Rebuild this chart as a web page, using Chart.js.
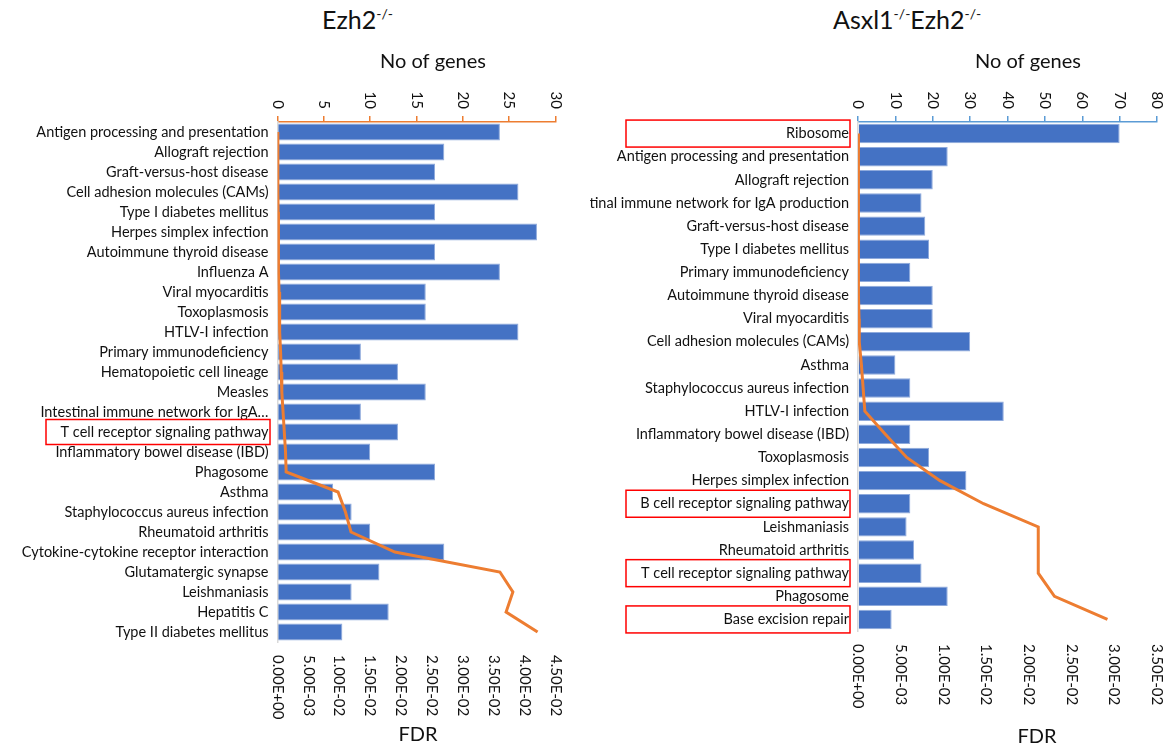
<!DOCTYPE html>
<html>
<head>
<meta charset="utf-8">
<script src="https://cdn.jsdelivr.net/npm/chart.js"></script>
<style>
  body { margin: 0; background: #fff; width: 1172px; height: 749px; position: relative; overflow: hidden; font-family: Lato, sans-serif; color: #111; }
  .title { position: absolute; top: 4px; font-size: 25px; white-space: nowrap; }
  .title sup { font-size: 14px; vertical-align: 10px; }
  #leftChart { position: absolute; left: 0; top: 0; }
  #rightChart { position: absolute; left: 590px; top: 0; }
</style>
</head>
<body>
<div class="title" style="left:322px">Ezh2<sup>-/-</sup></div>
<div class="title" style="left:833px">Asxl1<sup>-/-</sup>Ezh2<sup>-/-</sup></div>
<canvas id="leftChart" width="590" height="749"></canvas>
<canvas id="rightChart" width="582" height="749"></canvas>
<script>
// DATA

// Ezh2 -/- pathways
const ezhPathways = [
  'Antigen processing and presentation', 'Allograft rejection', 'Graft-versus-host disease',
  'Cell adhesion molecules (CAMs)', 'Type I diabetes mellitus', 'Herpes simplex infection',
  'Autoimmune thyroid disease', 'Influenza A', 'Viral myocarditis', 'Toxoplasmosis',
  'HTLV-I infection', 'Primary immunodeficiency', 'Hematopoietic cell lineage', 'Measles',
  'Intestinal immune network for IgA…', 'T cell receptor signaling pathway',
  'Inflammatory bowel disease (IBD)', 'Phagosome', 'Asthma', 'Staphylococcus aureus infection',
  'Rheumatoid arthritis', 'Cytokine-cytokine receptor interaction', 'Glutamatergic synapse',
  'Leishmaniasis', 'Hepatitis C', 'Type II diabetes mellitus'
];
const ezhGenes = [24, 18, 17, 26, 17, 28, 17, 24, 16, 16, 26, 9, 13, 16, 9, 13, 10, 17, 6, 8, 10, 18, 11, 8, 12, 7];
const ezhFdr = [0.00002, 0.00004, 0.00006, 0.00008, 0.0001, 0.00012, 0.00015, 0.0002, 0.00025, 0.0003,
  0.0004, 0.0005, 0.0006, 0.0007, 0.0009, 0.0011, 0.0013, 0.0014, 0.0098, 0.011,
  0.0119, 0.019, 0.036, 0.0381, 0.037, 0.0421];
const ezhGeneTicks = ['0', '5', '10', '15', '20', '25', '30'];
const ezhFdrTicks = ['0.00E+00', '5.00E-03', '1.00E-02', '1.50E-02', '2.00E-02', '2.50E-02', '3.00E-02', '3.50E-02', '4.00E-02', '4.50E-02'];
const ezhBoxed = ['T cell receptor signaling pathway'];

// Asxl1 -/- Ezh2 -/- pathways
const dkoPathways = [
  'Ribosome', 'Antigen processing and presentation', 'Allograft rejection',
  'Intestinal immune network for IgA production', 'Graft-versus-host disease',
  'Type I diabetes mellitus', 'Primary immunodeficiency', 'Autoimmune thyroid disease',
  'Viral myocarditis', 'Cell adhesion molecules (CAMs)', 'Asthma',
  'Staphylococcus aureus infection', 'HTLV-I infection', 'Inflammatory bowel disease (IBD)',
  'Toxoplasmosis', 'Herpes simplex infection', 'B cell receptor signaling pathway',
  'Leishmaniasis', 'Rheumatoid arthritis', 'T cell receptor signaling pathway',
  'Phagosome', 'Base excision repair'
];
const dkoGenes = [70, 24, 20, 17, 18, 19, 14, 20, 20, 30, 10, 14, 39, 14, 19, 29, 14, 13, 15, 17, 24, 9];
const dkoFdr = [0.00001, 0.00002, 0.00003, 0.00004, 0.00005, 0.00006, 0.00008, 0.0001, 0.00012, 0.00015,
  0.0004, 0.0006, 0.0008, 0.0032, 0.0057, 0.0096, 0.0147, 0.0211, 0.0211, 0.0211, 0.023, 0.0292];
const dkoGeneTicks = ['0', '10', '20', '30', '40', '50', '60', '70', '80'];
const dkoFdrTicks = ['0.00E+00', '5.00E-03', '1.00E-02', '1.50E-02', '2.00E-02', '2.50E-02', '3.00E-02', '3.50E-02'];
const dkoBoxed = ['Ribosome', 'B cell receptor signaling pathway', 'T cell receptor signaling pathway', 'Base excision repair'];


// draws rotated tick labels, axis titles and the red boxes
function decorPlugin(d) {
  return {
    id: 'decor',
    afterDraw(chart) {
      const ctx = chart.ctx;
      const area = chart.chartArea;
      const xs = chart.scales.x;
      const fs = chart.scales.x2;
      const ys = chart.scales.y;
      ctx.save();
      ctx.fillStyle = '#111';
      ctx.font = '15px Lato';
      ctx.textBaseline = 'middle';

      // top axis: No of genes
      d.geneTicks.forEach(t => {
        ctx.save();
        ctx.translate(xs.getPixelForValue(Number(t)), area.top - 13);
        ctx.rotate(Math.PI / 2);
        ctx.textAlign = 'right';
        ctx.fillText(t, 0, 0);
        ctx.restore();
      });

      // bottom axis: FDR
      d.fdrTicks.forEach(t => {
        ctx.save();
        ctx.translate(fs.getPixelForValue(Number(t)), area.bottom + 13);
        ctx.rotate(Math.PI / 2);
        ctx.textAlign = 'left';
        ctx.fillText(t, 0, 0);
        ctx.restore();
      });

      ctx.font = '20px Lato';
      ctx.textAlign = 'center';
      ctx.fillText('No of genes', d.genesTitle[0], d.genesTitle[1]);
      ctx.fillText('FDR', d.fdrTitle[0], d.fdrTitle[1]);

      // red boxes round some labels
      ctx.strokeStyle = '#ff0000';
      ctx.lineWidth = 1.5;
      d.boxed.forEach(name => {
        const cy = ys.getPixelForValue(d.labels.indexOf(name));
        ctx.strokeRect(d.box[0], cy - d.box[2] / 2, d.box[1], d.box[2]);
      });
      ctx.restore();
    }
  };
}

function makeChart(id, d) {
  return new Chart(document.getElementById(id), {
    type: 'bar',
    data: {
      labels: d.labels,
      datasets: [{
        type: 'line',
        indexAxis: 'y',
        data: d.fdr,
        xAxisID: 'x2',
        yAxisID: 'y',
        borderColor: '#ED7D31',
        backgroundColor: '#ED7D31',
        borderWidth: 3,
        pointRadius: 0,
        tension: 0,
        order: 0
      }, {
        type: 'bar',
        indexAxis: 'y',
        data: d.genes,
        xAxisID: 'x',
        yAxisID: 'y',
        backgroundColor: '#4472C4',
        borderColor: '#8FAADC',
        borderWidth: 1,
        barPercentage: 1,
        categoryPercentage: d.catPct,
        order: 1
      }]
    },
    options: {
      indexAxis: 'y',
      responsive: false,
      animation: false,
      layout: { padding: { left: 0, right: d.padRight, top: 0, bottom: 0 } },
      plugins: { legend: { display: false }, tooltip: { enabled: false } },
      scales: {
        x: {
          position: 'top',
          min: 0,
          max: Number(d.geneTicks[d.geneTicks.length - 1]),
          ticks: { display: false, stepSize: Number(d.geneTicks[1]) },
          grid: { display: true, drawOnChartArea: false, drawTicks: true, tickLength: 6, color: d.axisColor, lineWidth: 1.5 },
          border: { display: true, color: d.axisColor, width: 1.5 },
          afterFit: s => { s.height = d.top; }
        },
        x2: {
          position: 'bottom',
          min: 0,
          max: Number(d.fdrTicks[d.fdrTicks.length - 1]),
          ticks: { display: false, stepSize: 0.005 },
          grid: { display: false },
          border: { display: false },
          afterFit: s => { s.height = 749 - d.bottom; }
        },
        y: {
          ticks: { color: '#111', font: { family: 'Lato', size: 14.5 }, padding: 9, autoSkip: false },
          grid: { display: false, drawTicks: false },
          border: { display: true, color: '#d9d9d9', width: 1.5 },
          afterFit: s => { s.width = d.left; }
        }
      }
    },
    plugins: [decorPlugin(d)]
  });
}

makeChart('leftChart', {
  labels: ezhPathways, genes: ezhGenes, fdr: ezhFdr,
  geneTicks: ezhGeneTicks, fdrTicks: ezhFdrTicks, boxed: ezhBoxed,
  axisColor: '#ED7D31', catPct: 0.85,
  left: 277.5, padRight: 34.5, top: 122, bottom: 642,
  genesTitle: [433, 62], fdrTitle: [418, 735],
  box: [46, 224, 25]
});

makeChart('rightChart', {
  labels: dkoPathways, genes: dkoGenes, fdr: dkoFdr,
  geneTicks: dkoGeneTicks, fdrTicks: dkoFdrTicks, boxed: dkoBoxed,
  axisColor: '#5B9BD5', catPct: 0.84,
  left: 268, padRight: 15, top: 122, bottom: 631,
  genesTitle: [438, 62], fdrTitle: [447, 737],
  box: [36, 224, 27]
});
</script>
</body>
</html>
